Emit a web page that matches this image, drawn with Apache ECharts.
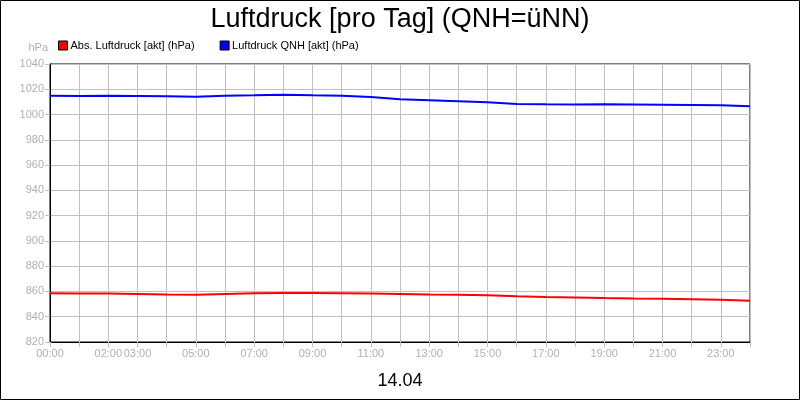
<!DOCTYPE html>
<html>
<head>
<meta charset="utf-8">
<script src="https://cdn.jsdelivr.net/npm/echarts@6/dist/echarts.min.js"></script>
<style>html,body{margin:0;padding:0;background:#fff}#c{width:800px;height:400px}</style>
</head>
<body>
<div id="c"></div>
<script>
const hours = [0,1,2,3,4,5,6,7,8,9,10,11,12,13,14,15,16,17,18,19,20,21,22,23,24];
const absDruck = [858.5,858.4,858.3,858.0,857.6,857.4,858.0,858.5,858.7,858.8,858.6,858.4,858.0,857.6,857.3,857.0,856.2,855.6,855.2,854.8,854.5,854.3,853.9,853.5,852.7];
const qnhDruck = [1014.9,1014.7,1014.8,1014.6,1014.4,1014.1,1014.8,1015.2,1015.7,1015.2,1014.9,1013.8,1012.1,1011.3,1010.5,1009.7,1008.3,1008.1,1008.0,1008.1,1008.0,1007.8,1007.6,1007.3,1006.5];
const labelHours = [0,2,3,5,7,9,11,13,15,17,19,21,23];
const seriesNames = ['Abs. Luftdruck [akt] (hPa)','Luftdruck QNH [akt] (hPa)'];
const titleText = 'Luftdruck [pro Tag] (QNH=üNN)';
const dateText = '14.04';

const chart = echarts.init(document.getElementById('c'));
const pad = n => (n < 10 ? '0' : '') + n;
chart.setOption({
  animation: false,
  textStyle: { fontFamily: 'Liberation Sans, Arial, sans-serif' },
  title: {
    text: titleText, left: 'center', top: 1,
    textStyle: { fontSize: 27, fontWeight: 'normal', color: '#000', fontFamily: 'Liberation Sans, Arial, sans-serif' }
  },
  legend: {
    left: 58, top: 40, padding: 0, icon: 'rect', itemWidth: 9, itemHeight: 9, itemGap: 25,
    textStyle: { fontSize: 11, color: '#000', padding: [0, 0, 0, -2] },
    itemStyle: { borderColor: '#000', borderWidth: 1 }
  },
  grid: { left: 50, right: 50, top: 64, bottom: 58, show: true, borderColor: '#000', borderWidth: 1 },
  xAxis: {
    type: 'value', min: 0, max: 24, interval: 1,
    name: dateText, nameLocation: 'middle', nameGap: 30,
    nameTextStyle: { fontSize: 18, color: '#000' },
    axisLine: { lineStyle: { color: '#000' } },
    axisTick: { show: true, length: 5, lineStyle: { color: '#c0c0c0' } },
    splitLine: { show: true, lineStyle: { color: '#c0c0c0' } },
    axisLabel: {
      color: '#b0b0b0', fontSize: 11, margin: 6, showMaxLabel: true, showMinLabel: true,
      formatter: v => labelHours.indexOf(v) >= 0 ? pad(v) + ':00' : ''
    }
  },
  yAxis: {
    type: 'value', min: 820, max: 1040, interval: 20,
    name: 'hPa', nameLocation: 'end', nameGap: 11,
    nameTextStyle: { color: '#b0b0b0', fontSize: 11, align: 'right', padding: [0, 2, 0, 0] },
    axisLine: { show: true, lineStyle: { color: '#000' } },
    axisTick: { show: true, length: 5, lineStyle: { color: '#c0c0c0' } },
    splitLine: { show: true, lineStyle: { color: '#c0c0c0' } },
    axisLabel: { color: '#b0b0b0', fontSize: 11, margin: 6, formatter: v => String(v) }
  },
  graphic: [{
    type: 'rect', silent: true, z: 100,
    shape: { x: 0.5, y: 0.5, width: 799, height: 399 },
    style: { fill: 'none', stroke: '#000', lineWidth: 1 }
  }],
  series: [
    { name: seriesNames[0], type: 'line', symbol: 'none', color: '#ff0000',
      lineStyle: { width: 2, color: '#ff0000' },
      data: hours.map((h, i) => [h, absDruck[i]]) },
    { name: seriesNames[1], type: 'line', symbol: 'none', color: '#0000ff',
      lineStyle: { width: 2, color: '#0000ff' },
      data: hours.map((h, i) => [h, qnhDruck[i]]) }
  ]
});
</script>
</body>
</html>
